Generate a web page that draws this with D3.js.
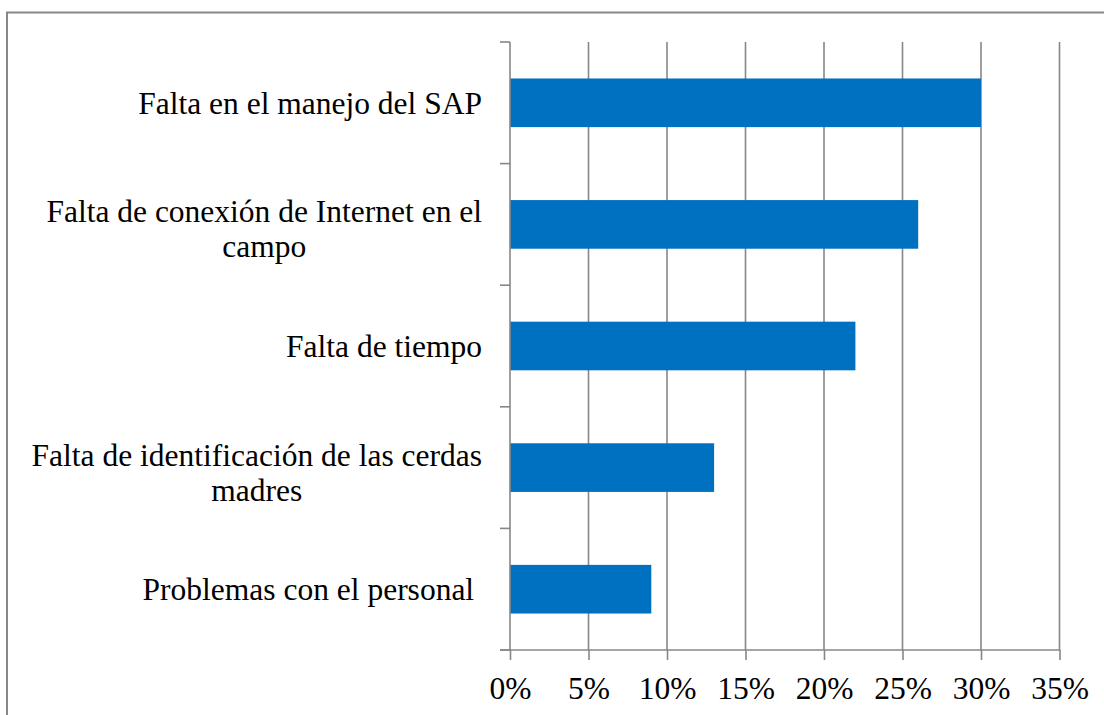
<!DOCTYPE html>
<html><head><meta charset="utf-8">
<script src="https://cdn.jsdelivr.net/npm/d3@7"></script>
<style>
html,body{margin:0;padding:0;background:#fff;}
svg{display:block;}
text{font-family:"Liberation Serif","Times New Roman",serif;fill:#000;}
</style></head>
<body>
<svg id="c" width="1104" height="715"></svg>
<script>
const categories = [
  ["Falta en el manejo del SAP"],
  ["Falta de conexión de Internet en el", "campo"],
  ["Falta de tiempo"],
  ["Falta de identificación de las cerdas", "madres"],
  ["Problemas con el personal "]
];
const values = [0.30, 0.26, 0.22, 0.13, 0.09];
const tickValues = [0, 0.05, 0.10, 0.15, 0.20, 0.25, 0.30, 0.35];
const tickLabels = ["0%", "5%", "10%", "15%", "20%", "25%", "30%", "35%"];

(function () {
const svg = d3.select("#c");
const gridColor = "#878787";
const barColor = "#0070C0";
const fontSize = 31.5;

// frame
svg.append("rect").attr("x", 7).attr("y", 12.5).attr("width", 1120).attr("height", 720)
  .attr("fill", "none").attr("stroke", gridColor).attr("stroke-width", 2);

const pLeft = 510, pRight = 1059.5, pTop = 42, pBottom = 650;
const x = d3.scaleLinear().domain([0, 0.35]).range([pLeft, pRight]);
const keys = categories.map((d, i) => i);
const y = d3.scaleBand().domain(keys).range([pTop, pBottom]).paddingInner(0.6).paddingOuter(0.3);
const step = y.step();

// gridlines
svg.append("g").selectAll("line").data(tickValues.slice(1)).join("line")
  .attr("x1", d => x(d)).attr("x2", d => x(d)).attr("y1", pTop).attr("y2", pBottom)
  .attr("stroke", gridColor).attr("stroke-width", 1.6);

// bars
svg.append("g").selectAll("rect").data(values).join("rect")
  .attr("x", x(0)).attr("y", (d, i) => y(i)).attr("width", d => x(d) - x(0))
  .attr("height", y.bandwidth()).attr("fill", barColor);

// x axis
const xAxis = d3.axisBottom(x).tickValues(tickValues).tickFormat((d, i) => tickLabels[i]).tickSize(10).tickPadding(17);
const gx = svg.append("g").attr("transform", `translate(0,${pBottom})`).call(xAxis);
gx.select(".domain").remove();
gx.selectAll(".tick line").attr("stroke", gridColor).attr("stroke-width", 1.6);
gx.selectAll(".tick text").attr("font-size", fontSize).attr("font-family", "Liberation Serif").attr("fill", "#000");
svg.append("line").attr("x1", pLeft - 10).attr("x2", pRight + 0.8).attr("y1", pBottom).attr("y2", pBottom)
  .attr("stroke", gridColor).attr("stroke-width", 1.6);

// y axis line and category ticks
svg.append("line").attr("x1", pLeft).attr("x2", pLeft).attr("y1", pTop).attr("y2", pBottom)
  .attr("stroke", gridColor).attr("stroke-width", 1.6);
const boundaries = d3.range(categories.length + 1).map(i => pTop + i * step);
svg.append("g").selectAll("line").data(boundaries).join("line")
  .attr("x1", pLeft - 10).attr("x2", pLeft).attr("y1", d => d).attr("y2", d => d)
  .attr("stroke", gridColor).attr("stroke-width", 1.6);

// category labels: centered lines, block right-aligned
const lineH = 35;
const labelRight = 482;
categories.forEach((lines, i) => {
  const cy = y(i) + y.bandwidth() / 2 + (lines.length > 1 ? 4.5 : 0);
  const g = svg.append("g");
  const texts = lines.map((l, j) => g.append("text")
    .attr("font-size", fontSize)
    .style("white-space", "pre")
    .attr("y", cy + (j - (lines.length - 1) / 2) * lineH)
    .attr("dy", "0.35em")
    .text(l));
  const widths = texts.map(t => t.node().getComputedTextLength());
  const maxW = d3.max(widths);
  const cx = labelRight - maxW / 2;
  texts.forEach(t => t.attr("x", cx).attr("text-anchor", "middle"));
});
})();
</script>
</body></html>
